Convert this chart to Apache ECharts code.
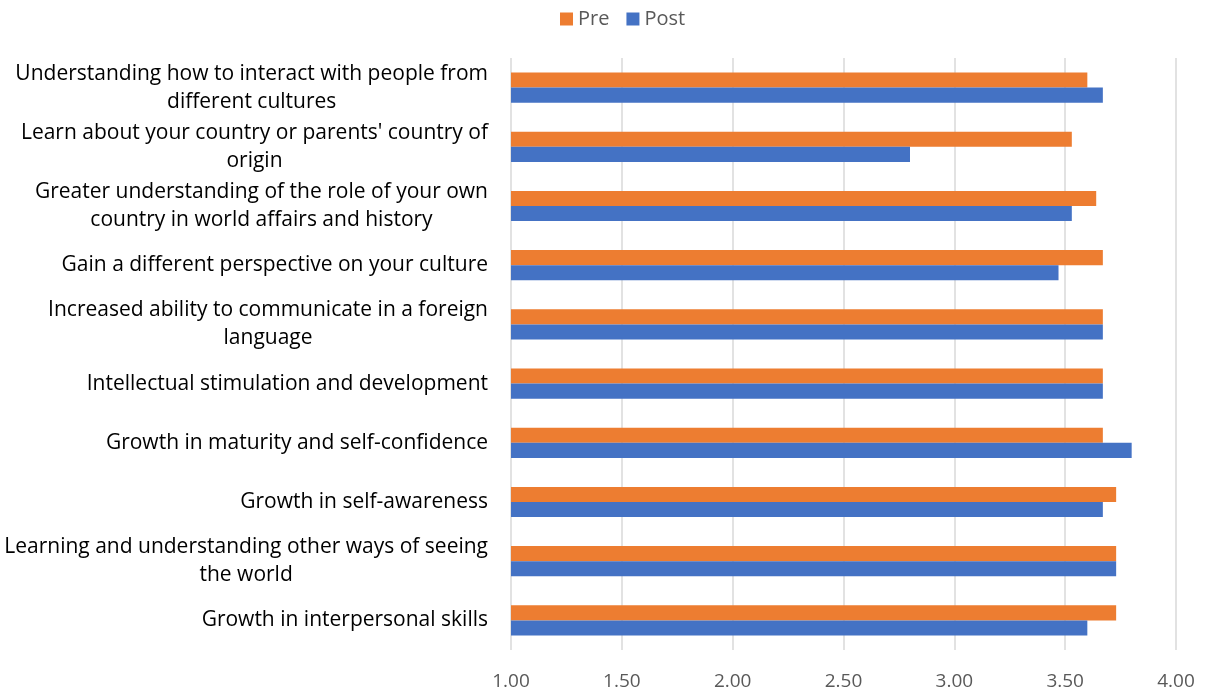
<!DOCTYPE html>
<html>
<head>
<meta charset="utf-8">
<script src="https://cdn.jsdelivr.net/npm/echarts@6/dist/echarts.min.js"></script>
<style>
html,body{margin:0;padding:0;background:#fff;}
#chart{width:1206px;height:692px;}
</style>
</head>
<body>
<div id="chart"></div>
<script>
const categories = [
  "Understanding how to interact with people from\ndifferent cultures",
  "Learn about your country or parents' country of\norigin",
  "Greater understanding of the role of your own\ncountry in world affairs and history",
  "Gain a different perspective on your culture",
  "Increased ability to communicate in a foreign\nlanguage",
  "Intellectual stimulation and development",
  "Growth in maturity and self-confidence",
  "Growth in self-awareness",
  "Learning and understanding other ways of seeing\nthe world",
  "Growth in interpersonal skills"
];
const preValues  = [3.60, 3.53, 3.64, 3.67, 3.67, 3.67, 3.67, 3.73, 3.73, 3.73];
const postValues = [3.67, 2.80, 3.53, 3.47, 3.67, 3.67, 3.80, 3.67, 3.73, 3.60];
const xTicks = [1.00, 1.50, 2.00, 2.50, 3.00, 3.50, 4.00];

const chart = echarts.init(document.getElementById('chart'));
const FONT = '"Open Sans"';
chart.setOption({
  animation: false,
  textStyle: { fontFamily: FONT },
  legend: {
    top: 9,
    left: 560,
    padding: 0,
    itemWidth: 13,
    itemHeight: 13,
    itemGap: 17,
    icon: 'rect',
    textStyle: { fontSize: 20, color: '#595959', fontFamily: FONT },
    data: ['Pre', 'Post']
  },
  grid: { left: 511, right: 30, top: 58, bottom: 42, containLabel: false },
  xAxis: {
    type: 'value',
    min: xTicks[0],
    max: xTicks[xTicks.length - 1],
    interval: 0.5,
    axisLine: { show: false },
    axisTick: { show: false },
    splitLine: { show: true, lineStyle: { color: '#D9D9D9', width: 1.5 } },
    axisLabel: {
      margin: 22,
      fontSize: 19,
      color: '#595959',
      fontFamily: FONT,
      formatter: v => v.toFixed(2)
    }
  },
  yAxis: {
    type: 'category',
    inverse: true,
    data: categories,
    axisLine: { show: false },
    axisTick: { show: false },
    splitLine: { show: false },
    axisLabel: {
      margin: 23,
      fontSize: 21,
      color: '#000',
      fontFamily: FONT,
      lineHeight: 28,
      formatter: v => v.split('\n').map(l => '{c|' + l + '}').join('\n'),
      rich: { c: { align: 'center', fontSize: 21, lineHeight: 28, color: '#000', fontFamily: FONT } }
    }
  },
  series: [
    {
      name: 'Pre', type: 'bar', data: preValues,
      itemStyle: { color: '#ED7D31' },
      barGap: '0%', barCategoryGap: '49%'
    },
    {
      name: 'Post', type: 'bar', data: postValues,
      itemStyle: { color: '#4472C4' },
      barGap: '0%', barCategoryGap: '49%'
    }
  ]
});
</script>
</body>
</html>
